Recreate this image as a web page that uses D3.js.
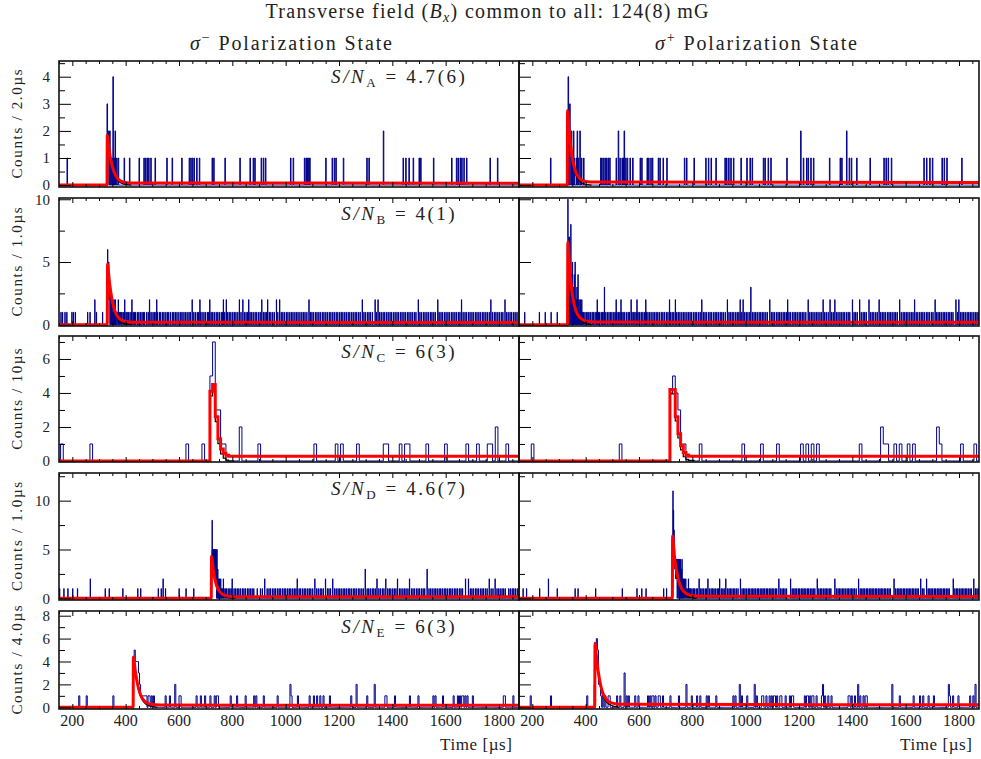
<!DOCTYPE html>
<head>
  <meta charset="utf-8">
  <script src="https://d3js.org/d3.v7.min.js"></script>
  <style>
    body { margin:0; background:#fff; }
    text { font-family: "Liberation Serif", "DejaVu Serif", serif; fill:#222; }
  </style>
</head>
<body>
<script>

  // ---------- values ----------

  var xDomain = [150, 1875];
  var xMajor = [200, 400, 600, 800, 1000, 1200, 1400, 1600, 1800];

  var rowLetters = ["A", "B", "C", "D", "E"];
  var snValues = ["4.7(6)", "4(1)", "6(3)", "4.6(7)", "6(3)"];
  var yLabels = ["Counts / 2.0\u00b5s", "Counts / 1.0\u00b5s", "Counts / 10\u00b5s", "Counts / 1.0\u00b5s", "Counts / 4.0\u00b5s"];
  var binWidths = [2, 1, 10, 1, 4];
  var binOrigins = [0, 0, 6, 0, 0];
  var yDomains = [[-0.07, 4.58], [-0.1, 10.1], [-0.06, 7.35], [-0.17, 12.83], [-0.15, 8.41]];
  var yMajor = [[0, 1, 2, 3, 4], [0, 5, 10], [0, 2, 4, 6], [0, 5, 10], [0, 2, 4, 6, 8]];
  var yMinor = [[0.5, 1.5, 2.5, 3.5, 4.5], [2.5, 7.5], [1, 3, 5, 7], [2.5, 7.5, 12.5], [1, 3, 5, 7]];

  // row A (2 us bins) : single-count bins, then [time, count] for the rest
  var aMinusOnes = [181, 334, 345, 348, 356, 366, 372, 395, 414, 451, 469, 475, 481, 487, 494, 511, 554, 575, 610, 639, 645, 651, 657, 666, 677, 725, 730, 772, 829, 866, 879, 885, 909, 916, 925, 1019, 1029, 1070, 1076, 1081, 1086, 1090, 1151, 1175, 1182, 1189, 1216, 1304, 1312, 1441, 1451, 1462, 1479, 1500, 1507, 1554, 1622, 1641, 1647, 1654, 1660, 1669, 1679, 1766, 1795];
  var aMinusMulti = [[331, 3], [337, 2], [341, 2], [352, 4], [361, 2], [1366, 2]];
  var aMinusFit = [[150, 0], [330, 0], [331, 1.85], [336, 1.45], [342, 1.05], [350, 0.68], [360, 0.4], [372, 0.22], [390, 0.12], [420, 0.08], [1875, 0.07]];

  var aPlusOnes = [269, 343, 351, 357, 364, 372, 385, 392, 456, 461, 466, 472, 479, 485, 491, 514, 529, 536, 541, 550, 557, 566, 576, 604, 610, 630, 637, 644, 651, 672, 679, 691, 704, 770, 779, 806, 851, 860, 870, 889, 922, 929, 937, 945, 954, 982, 1004, 1016, 1025, 1066, 1072, 1085, 1094, 1154, 1216, 1229, 1235, 1244, 1254, 1314, 1354, 1360, 1389, 1397, 1416, 1466, 1519, 1526, 1535, 1547, 1669, 1679, 1691, 1700, 1737, 1745, 1754, 1810];
  var aPlusMulti = [[334, 4], [340, 3], [346, 2], [354, 2], [368, 2], [378, 2], [522, 2], [545, 2], [1207, 2], [1379, 2]];
  var aPlusFit = [[150, 0], [331, 0], [332, 2.75], [338, 2.0], [345, 1.35], [352, 0.9], [362, 0.5], [375, 0.27], [392, 0.15], [420, 0.11], [1875, 0.1]];

  // row B (1 us bins)
  var bMinusOnes = [157, 163, 172, 179, 198, 204, 211, 257, 266, 290, 313,
    346, 351, 354, 358, 363, 367, 371, 376, 381, 385, 390, 394, 401, 405, 410, 416, 421, 428, 433, 437, 444, 449, 455, 461, 466, 470, 478, 484, 490, 495,
    502, 507, 513, 519, 526, 531, 538, 543, 550, 556, 561, 568, 575, 580, 586, 592, 599, 606, 611, 618, 624, 630, 637, 642, 655, 661, 668, 673, 680, 686, 693, 699,
    706, 711, 720, 726, 732, 739, 745, 751, 758, 763, 771, 782, 788, 794, 801, 807, 813, 820, 832, 845, 851, 857, 866, 872, 878, 885, 891, 898, 904, 916, 922, 927, 938, 944, 951, 957, 970, 983, 989, 995,
    1002, 1008, 1015, 1021, 1027, 1034, 1040, 1046, 1053, 1060, 1066, 1072, 1079, 1092, 1098, 1104, 1111, 1117, 1124, 1130, 1137, 1143, 1150, 1156, 1163, 1169, 1176, 1182, 1189, 1195,
    1202, 1208, 1214, 1221, 1227, 1234, 1240, 1247, 1253, 1260, 1266, 1273, 1279, 1293, 1299, 1306, 1312, 1318, 1325, 1340, 1352, 1358, 1365, 1371, 1378, 1384, 1391, 1397,
    1404, 1410, 1417, 1423, 1430, 1436, 1443, 1449, 1456, 1462, 1469, 1475, 1482, 1488, 1503, 1509, 1516, 1522, 1529, 1535, 1542, 1548, 1555, 1561, 1575, 1582, 1588, 1595,
    1601, 1608, 1614, 1621, 1627, 1634, 1640, 1647, 1653, 1665, 1672, 1678, 1685, 1691, 1698, 1704, 1711, 1717, 1724, 1730, 1737, 1743, 1750, 1756, 1763, 1775, 1782, 1788, 1795,
    1801, 1808, 1814, 1828, 1834, 1841, 1847, 1854, 1860, 1867];
  var bMinusMulti = [[284, 2], [331, 3], [332, 6], [333, 5], [334, 4], [335, 3], [336, 5], [337, 2], [338, 3], [339, 4], [340, 2], [342, 3], [343, 2], [345, 2], [349, 2], [356, 2], [361, 2],
    [372, 2], [396, 2], [423, 2], [489, 2], [516, 2], [649, 2], [678, 2], [715, 2], [766, 2], [777, 2], [826, 2], [839, 2], [861, 2], [910, 2], [932, 2], [965, 2], [977, 2],
    [1087, 2], [1287, 2], [1335, 2], [1346, 2], [1497, 2], [1570, 2], [1659, 2], [1769, 2], [1822, 2]];
  var bMinusFit = [[150, 0], [331, 0], [332, 4.85], [338, 3.6], [345, 2.5], [355, 1.4], [365, 0.8], [380, 0.42], [400, 0.26], [430, 0.2], [1875, 0.18]];

  var bPlusOnes = [171, 226, 248, 270, 293,
    366, 373, 378, 383, 388, 392, 397, 403, 408, 412, 418, 424, 429, 435, 440, 447, 452, 458, 463, 468, 475, 481, 487, 493, 498,
    505, 510, 517, 523, 528, 535, 540, 546, 553, 559, 564, 573, 578, 584, 589, 596, 602, 608, 614, 620, 627, 633, 639, 645, 652, 658, 664, 670, 676, 683, 689, 695,
    702, 708, 718, 724, 730, 741, 747, 753, 760, 766, 772, 779, 785, 791, 797, 804, 810, 816, 823, 829, 841, 847, 853, 860, 866, 872, 879, 885, 891, 897,
    904, 910, 916, 923, 937, 943, 949, 955, 962, 968, 974, 985, 996, 1002, 1008, 1015, 1025, 1031, 1037, 1043, 1050, 1056, 1062, 1068, 1075, 1081, 1096,
    1102, 1108, 1115, 1121, 1127, 1133, 1140, 1146, 1152, 1162, 1168, 1175, 1181, 1187, 1193, 1200, 1206, 1212, 1218, 1225, 1240, 1246, 1252, 1259, 1265, 1271, 1278, 1284, 1296,
    1302, 1309, 1322, 1328, 1340, 1346, 1353, 1359, 1365, 1371, 1378, 1384, 1390, 1406, 1412, 1418, 1433, 1440, 1446, 1452, 1468, 1474, 1480, 1487, 1493,
    1506, 1512, 1518, 1524, 1531, 1537, 1543, 1549, 1556, 1562, 1568, 1583, 1590, 1596, 1602, 1608, 1615, 1621, 1627, 1639, 1645, 1652, 1658, 1664, 1670, 1677, 1683, 1689, 1696,
    1702, 1715, 1721, 1727, 1733, 1740, 1746, 1752, 1759, 1765, 1771, 1777, 1794, 1805, 1811, 1817, 1823, 1830, 1836, 1842, 1848, 1855, 1861, 1867, 1872];
  var bPlusMulti = [[332, 4], [333, 10], [334, 7], [336, 6], [338, 7], [340, 4], [341, 5], [343, 3], [344, 8], [346, 3], [347, 4], [349, 2], [350, 5], [352, 2], [354, 3], [356, 2],
    [357, 4], [359, 2], [360, 5], [362, 2], [364, 2], [367, 3], [369, 2], [371, 4], [375, 2], [380, 2], [385, 2], [470, 3], [1019, 3],
    [443, 2], [514, 2], [532, 2], [570, 2], [592, 2], [625, 2], [714, 2], [736, 2], [835, 2], [931, 2], [979, 2], [990, 2], [1090, 2], [1157, 2], [1234, 2], [1290, 2],
    [1316, 2], [1334, 2], [1400, 2], [1427, 2], [1462, 2], [1500, 2], [1577, 2], [1633, 2], [1710, 2], [1788, 2], [1799, 2]];
  var bPlusFit = [[150, 0], [332, 0], [333, 6.6], [340, 4.4], [348, 2.7], [358, 1.5], [370, 0.8], [385, 0.45], [405, 0.28], [440, 0.22], [1875, 0.2]];

  // row C (10 us bins)
  var cMinusOnes = [156, 266, 626, 686, 756, 766, 896, 1106, 1186, 1206, 1266, 1366, 1376, 1426, 1446, 1456, 1526, 1596, 1676, 1716, 1756, 1766, 1826];
  var cMinusMulti = [[716, 5], [726, 7], [736, 3], [746, 3], [826, 2], [1786, 2]];
  var cMinusFit = [[150, 0], [716, 4.1], [726, 4.5], [736, 2.6], [746, 1.3], [756, 0.7], [766, 0.45], [776, 0.33], [786, 0.28], [1875, 0.28]];

  var cPlusOnes = [196, 526, 756, 766, 826, 986, 1056, 1116, 1206, 1226, 1246, 1266, 1426, 1516, 1526, 1556, 1576, 1606, 1626, 1726, 1806, 1856];
  var cPlusMulti = [[716, 4], [726, 5], [736, 4], [746, 3], [1506, 2], [1716, 2]];
  var cPlusFit = [[150, 0], [716, 4.2], [726, 4.2], [736, 2.6], [746, 1.6], [756, 0.9], [766, 0.5], [776, 0.35], [786, 0.28], [1875, 0.25]];

  // row D (1 us bins)
  var dMinusOnes = [152, 168, 183, 201, 219, 323, 338, 389, 445, 456, 522, 533, 549, 600, 626, 655,
    749, 753, 758, 762, 768, 773, 778, 784, 790, 795, 806, 812, 818, 824, 830, 837, 843, 849, 856, 862, 868, 874, 880, 893,
    905, 912, 930, 937, 943, 950, 956, 962, 969, 975, 981, 988, 994, 1000, 1007, 1013, 1019, 1026, 1032, 1038, 1050, 1056, 1063, 1069, 1075, 1082, 1088, 1094,
    1101, 1116, 1122, 1129, 1135, 1141, 1156, 1162, 1168, 1183, 1189, 1196, 1202, 1208, 1215, 1221, 1227, 1234, 1240, 1246, 1253, 1259, 1265, 1272, 1278, 1285, 1291,
    1305, 1311, 1317, 1324, 1330, 1336, 1349, 1355, 1362, 1368, 1382, 1388, 1394, 1401, 1407, 1413, 1426, 1432, 1439, 1445, 1451, 1458, 1471, 1477, 1483, 1490, 1496,
    1502, 1509, 1515, 1521, 1537, 1543, 1549, 1556, 1562, 1568, 1575, 1581, 1587, 1594, 1600, 1606, 1613, 1619, 1625, 1632, 1638, 1644, 1651, 1657, 1663, 1692, 1698,
    1704, 1711, 1717, 1723, 1730, 1736, 1742, 1749, 1755, 1770, 1777, 1792, 1798, 1804, 1811, 1817, 1823, 1836, 1842, 1849, 1855, 1861, 1868];
  var dMinusMulti = [[267, 2], [540, 2], [722, 3], [723, 5], [724, 8], [725, 5], [726, 4], [727, 5], [728, 5], [729, 3], [730, 5], [731, 4], [732, 5], [733, 2], [734, 5],
    [735, 3], [736, 5], [737, 2], [738, 3], [739, 5], [740, 2], [742, 5], [743, 2], [745, 3], [747, 2], [751, 2], [756, 2],
    [766, 2], [799, 2], [921, 2], [1043, 2], [1109, 2], [1149, 2], [1176, 2], [1298, 3], [1342, 2], [1375, 2], [1419, 2], [1464, 2], [1530, 3], [1674, 2], [1685, 2], [1763, 2], [1785, 2]];
  var dMinusFit = [[150, 0], [721, 0], [722, 4.3], [728, 3.0], [735, 1.9], [743, 1.15], [752, 0.7], [765, 0.38], [785, 0.22], [820, 0.16], [1875, 0.15]];

  var dPlusOnes = [165, 178, 227, 293, 360, 371, 437, 537, 592, 610, 626, 692, 703,
    779, 783, 789, 793, 798, 803, 808, 814, 819, 831, 836, 842, 848, 853, 864, 870, 876, 881, 887, 893, 898,
    908, 914, 919, 931, 937, 942, 948, 954, 959, 965, 971, 986, 992, 997, 1003, 1009, 1014, 1020, 1026, 1031, 1037, 1043, 1048, 1054, 1060, 1065, 1071, 1077, 1082, 1088, 1094, 1099,
    1105, 1111, 1116, 1130, 1136, 1141, 1147, 1153, 1174, 1180, 1185, 1191, 1197, 1202, 1208, 1214, 1219, 1225, 1231, 1236, 1242, 1248, 1253, 1259, 1274, 1280, 1285, 1291, 1297,
    1302, 1308, 1314, 1319, 1340, 1346, 1351, 1357, 1363, 1368, 1374, 1380, 1385, 1391, 1397, 1402, 1408, 1414, 1429, 1435, 1440, 1446, 1452, 1457, 1463, 1469, 1474, 1480, 1486, 1491, 1497,
    1503, 1508, 1514, 1520, 1525, 1531, 1537, 1542, 1562, 1568, 1574, 1579, 1585, 1591, 1596, 1602, 1608, 1613, 1619, 1625, 1630, 1636, 1642, 1647, 1662, 1668, 1684, 1690, 1695,
    1701, 1707, 1712, 1718, 1724, 1729, 1735, 1741, 1746, 1752, 1758, 1763, 1784, 1790, 1795, 1801, 1807, 1812, 1818, 1824, 1829, 1835, 1841, 1846, 1861, 1867, 1872];
  var dPlusMulti = [[260, 2], [726, 4], [727, 11], [728, 6], [729, 9], [730, 4], [731, 7], [732, 4], [733, 5], [734, 3], [735, 4], [736, 4], [737, 2], [738, 4], [739, 3], [740, 4],
    [741, 2], [742, 4], [744, 4], [745, 3], [746, 4], [747, 2], [748, 4], [750, 3], [752, 4], [753, 2], [755, 4], [757, 2], [759, 3], [761, 4], [763, 2], [766, 2], [770, 2], [775, 2],
    [785, 2], [825, 2], [858, 2], [902, 2], [925, 2], [980, 2], [1124, 2], [1168, 2], [1268, 2], [1334, 2], [1423, 2], [1556, 2], [1656, 2], [1678, 2], [1778, 2], [1855, 2]];
  var dPlusFit = [[150, 0], [725, 0], [726, 6.4], [732, 4.5], [740, 2.9], [749, 1.75], [760, 1.0], [775, 0.52], [795, 0.3], [840, 0.22], [1875, 0.2]];

  // row E (4 us bins)
  var eMinusOnes = [225, 254, 354, 456, 460, 466, 470, 474, 479, 485, 491, 498, 504, 550, 566, 600, 607, 666, 682, 697, 716, 735, 741, 747, 795, 819, 850, 882, 889, 916, 970,
    1022, 1047, 1091, 1104, 1116, 1129, 1141, 1166, 1247, 1304, 1372, 1379, 1410, 1466, 1497, 1554, 1562, 1591, 1629, 1647, 1654, 1660, 1666, 1672, 1682, 1700, 1816, 1822, 1854];
  var eMinusMulti = [[428, 3], [432, 5], [436, 4], [440, 4], [444, 4], [448, 3], [452, 2], [587, 2], [1016, 2], [1266, 2], [1335, 2]];
  var eMinusFit = [[150, 0], [428, 0], [429, 4.4], [436, 3.2], [444, 2.1], [452, 1.35], [462, 0.8], [475, 0.45], [495, 0.26], [530, 0.19], [1875, 0.17]];

  var ePlusOnes = [195, 270, 406, 456, 464, 472, 485, 491, 516, 529, 554, 560, 585, 598, 635, 641, 648, 654, 660, 673, 679, 691, 716, 748, 798, 816, 829, 854, 860, 891, 954, 960, 985,
    1004, 1041, 1060, 1066, 1079, 1091, 1098, 1104, 1110, 1116, 1129, 1135, 1148, 1166, 1173, 1179, 1223, 1229, 1235, 1241, 1248, 1254, 1266, 1285, 1298, 1310, 1323,
    1385, 1391, 1398, 1410, 1429, 1441, 1448, 1454, 1579, 1629, 1654, 1666, 1685, 1704, 1766, 1779, 1798, 1841, 1854];
  var ePlusMulti = [[432, 2], [436, 4], [440, 6], [444, 5], [448, 2], [452, 2], [547, 3], [779, 2], [979, 2], [1035, 2], [1291, 2], [1423, 2], [1548, 2], [1760, 2], [1860, 2]];
  var ePlusFit = [[150, 0], [434, 0], [435, 5.6], [441, 4.3], [448, 3.0], [456, 1.95], [466, 1.15], [480, 0.62], [500, 0.36], [530, 0.26], [1875, 0.22]];

  var histData = [
    [[aMinusOnes, aMinusMulti, aMinusFit], [aPlusOnes, aPlusMulti, aPlusFit]],
    [[bMinusOnes, bMinusMulti, bMinusFit], [bPlusOnes, bPlusMulti, bPlusFit]],
    [[cMinusOnes, cMinusMulti, cMinusFit], [cPlusOnes, cPlusMulti, cPlusFit]],
    [[dMinusOnes, dMinusMulti, dMinusFit], [dPlusOnes, dPlusMulti, dPlusFit]],
    [[eMinusOnes, eMinusMulti, eMinusFit], [ePlusOnes, ePlusMulti, ePlusFit]]
  ];

  // ---------- layout ----------

  var cols = [[59, 519], [519, 979]];
  var rows = [[61, 187], [198, 326], [336, 462], [473, 600], [611, 709]];

  var svg = d3.select("body").append("svg")
    .attr("width", 981)
    .attr("height", 759);

  // histogram outline from sparse bins
  function histPoints(ones, multi, w, origin) {
    var counts = {};
    ones.forEach(function(t) {
      var b = origin + Math.floor((t - origin) / w) * w;
      counts[b] = Math.max(counts[b] || 0, 1);
    });
    multi.forEach(function(d) {
      var b = origin + Math.floor((d[0] - origin) / w) * w;
      counts[b] = d[1];
    });
    var pts = [];
    var b = origin + Math.floor((xDomain[0] - origin) / w) * w;
    for (; b < xDomain[1]; b += w) pts.push([b, counts[b] || 0]);
    pts.push([b, 0]);
    return pts;
  }

  // signal-only part of the fit (drawn in black under the red curve)
  function signalPoints(fit) {
    var bg = fit[fit.length - 1][1];
    var i0 = fit.findIndex(function(d) { return d[1] > 0; });
    var t0 = fit[i0][0];
    var pts = [[fit[Math.max(i0 - 1, 0)][0], 0]];
    fit.forEach(function(d, i) {
      if (i >= i0 && d[0] <= t0 + 80) pts.push([d[0], Math.max(d[1] - bg, 0)]);
    });
    pts.push([t0 + 90, 0]);
    return pts;
  }

  rows.forEach(function(r, ri) {
    cols.forEach(function(c, ci) {
      var x = d3.scaleLinear().domain(xDomain).range(c);
      var y = d3.scaleLinear().domain(yDomains[ri]).range([r[1], r[0]]);
      var g = svg.append("g");
      var clipId = "clip" + ri + "_" + ci;

      svg.append("clipPath").attr("id", clipId)
        .append("rect")
        .attr("x", c[0]).attr("y", r[0])
        .attr("width", c[1] - c[0]).attr("height", r[1] - r[0]);

      var d = histData[ri][ci];
      var stepCurve = binWidths[ri] >= 10 ? d3.curveStepAfter : d3.curveMonotoneX;

      var hist = d3.line()
        .x(function(p) { return x(p[0]); })
        .y(function(p) { return y(p[1]); })
        .curve(d3.curveStepAfter);
      var fitLine = d3.line()
        .x(function(p) { return x(p[0]); })
        .y(function(p) { return y(p[1]); })
        .curve(stepCurve);

      var plot = g.append("g").attr("clip-path", "url(#" + clipId + ")");

      plot.append("path")
        .datum(histPoints(d[0], d[1], binWidths[ri], binOrigins[ri]))
        .attr("d", hist)
        .attr("fill", "none")
        .attr("stroke", "#00008b")
        .attr("stroke-width", 1);

      plot.append("path")
        .datum(signalPoints(d[2]))
        .attr("d", fitLine)
        .attr("fill", "none")
        .attr("stroke", "#000")
        .attr("stroke-width", 1.2);

      plot.append("path")
        .datum(d[2])
        .attr("d", fitLine)
        .attr("fill", "none")
        .attr("stroke", "#ff0000")
        .attr("stroke-width", 3);

      // x ticks, inward, top and bottom
      var xMinor = d3.range(150, 1876, 50).filter(function(v) { return xMajor.indexOf(v) < 0; });
      [[d3.axisTop, r[0]], [d3.axisBottom, r[1]]].forEach(function(a) {
        g.append("g").attr("transform", "translate(0," + a[1] + ")")
          .call(a[0](x).tickValues(xMajor).tickSize(-5).tickFormat(""))
          .call(function(s) { s.select(".domain").remove(); });
        g.append("g").attr("transform", "translate(0," + a[1] + ")")
          .call(a[0](x).tickValues(xMinor).tickSize(-3).tickFormat(""))
          .call(function(s) { s.select(".domain").remove(); });
      });

      // y ticks, inward on the left side
      g.append("g").attr("transform", "translate(" + c[0] + ",0)")
        .call(d3.axisLeft(y).tickValues(yMajor[ri]).tickSize(-12).tickPadding(9)
          .tickFormat(ci === 0 ? d3.format("d") : ""))
        .call(function(s) {
          s.select(".domain").remove();
          s.selectAll("text").style("font-size", "15px").attr("fill", "#222")
            .style("font-family", "Liberation Serif, serif");
        });
      g.append("g").attr("transform", "translate(" + c[0] + ",0)")
        .call(d3.axisLeft(y).tickValues(yMinor[ri]).tickSize(-6).tickFormat(""))
        .call(function(s) { s.select(".domain").remove(); });

      g.selectAll(".tick line").attr("stroke", "#000").attr("stroke-width", 1);

      g.append("rect")
        .attr("x", c[0]).attr("y", r[0])
        .attr("width", c[1] - c[0]).attr("height", r[1] - r[0])
        .attr("fill", "none")
        .attr("stroke", "#111")
        .attr("stroke-width", 1.6);

      // x tick labels on the bottom row
      if (ri === rows.length - 1) {
        g.selectAll(".xlab").data(xMajor).enter()
          .append("text")
          .attr("x", function(v) { return x(v); })
          .attr("y", 726)
          .attr("text-anchor", "middle")
          .style("font-size", "16px")
          .text(function(v) { return v; });

        g.append("text")
          .attr("x", c[1] - 7)
          .attr("y", 750)
          .attr("text-anchor", "end")
          .attr("textLength", 72)
          .attr("lengthAdjust", "spacing")
          .style("font-size", "17px")
          .text("Time [\u00b5s]");
      }
    });

    // y label
    svg.append("text")
      .attr("transform", "translate(22," + ((r[0] + r[1]) / 2) + ") rotate(-90)")
      .attr("text-anchor", "middle")
      .attr("textLength", yLabels[ri].length * 7.8)
      .attr("lengthAdjust", "spacing")
      .style("font-size", "15px")
      .text(yLabels[ri]);

    // S/N label
    var sn = svg.append("text")
      .attr("x", 398)
      .attr("y", r[0] + 22)
      .attr("text-anchor", "middle")
      .attr("textLength", (7 + snValues[ri].length) * 10.3)
      .attr("lengthAdjust", "spacing")
      .style("font-size", "19px");
    sn.append("tspan").style("font-style", "italic").text("S/N");
    sn.append("tspan").attr("dy", 4).style("font-size", "13px").text(rowLetters[ri]);
    sn.append("tspan").attr("dy", -4).text(" = " + snValues[ri]);
  });

  // title
  var title = svg.append("text")
    .attr("x", 487)
    .attr("y", 18)
    .attr("text-anchor", "middle")
    .attr("textLength", 443)
    .attr("lengthAdjust", "spacing")
    .style("font-size", "20px");
  title.append("tspan").text("Transverse field (");
  title.append("tspan").style("font-style", "italic").text("B");
  title.append("tspan").attr("dy", 4).style("font-size", "14px").style("font-style", "italic").text("x");
  title.append("tspan").attr("dy", -4).text(") common to all: 124(8)\u2009mG");

  // column headings
  [[291, "\u2212"], [756, "+"]].forEach(function(h) {
    var t = svg.append("text")
      .attr("x", h[0])
      .attr("y", 50)
      .attr("text-anchor", "middle")
      .attr("textLength", 202)
      .attr("lengthAdjust", "spacing")
      .style("font-size", "20px");
    t.append("tspan").style("font-style", "italic").text("\u03c3");
    t.append("tspan").attr("dy", -8).style("font-size", "14px").text(h[1]);
    t.append("tspan").attr("dy", 8).text("  Polarization State");
  });

</script>
</body>
